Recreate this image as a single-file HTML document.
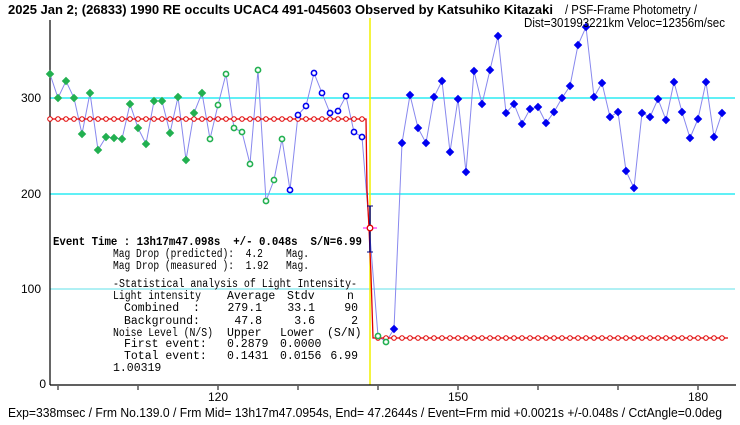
<!DOCTYPE html>
<html><head><meta charset="utf-8"><style>
html,body{margin:0;padding:0;background:#fff;}
svg{display:block;}
text{white-space:pre;}
</style></head><body>
<svg id="s" width="740" height="425" viewBox="0 0 740 425" xmlns="http://www.w3.org/2000/svg" xml:space="preserve">
<rect width="740" height="425" fill="#fff"/>
<line x1="50" y1="98" x2="735" y2="98" stroke="#00e8f0" stroke-width="1.3"/>
<line x1="50" y1="194" x2="735" y2="194" stroke="#00e8f0" stroke-width="1.3"/>
<line x1="50" y1="289" x2="735" y2="289" stroke="#60e0e8" stroke-width="1"/>
<line x1="370" y1="18" x2="370" y2="385" stroke="#f0f000" stroke-width="1.5"/>
<line x1="50" y1="20" x2="50" y2="385" stroke="#000" stroke-width="1.2"/>
<line x1="50" y1="385" x2="736" y2="385" stroke="#000" stroke-width="1.2"/>
<g stroke="#000" stroke-width="1">
<line x1="58" y1="386" x2="58" y2="390"/><line x1="138" y1="386" x2="138" y2="390"/><line x1="218" y1="386" x2="218" y2="390"/><line x1="298" y1="386" x2="298" y2="390"/><line x1="378" y1="386" x2="378" y2="390"/><line x1="458" y1="386" x2="458" y2="390"/><line x1="538" y1="386" x2="538" y2="390"/><line x1="618" y1="386" x2="618" y2="390"/><line x1="698" y1="386" x2="698" y2="390"/>
</g>
<g font-family="Liberation Sans, sans-serif" font-size="12" fill="#000">
<text x="41" y="102" text-anchor="end">300</text>
<text x="41" y="198" text-anchor="end">200</text>
<text x="41" y="293" text-anchor="end">100</text>
<text x="46" y="388" text-anchor="end">0</text>
<text x="218" y="401" text-anchor="middle">120</text>
<text x="458" y="401" text-anchor="middle">150</text>
<text x="698" y="401" text-anchor="middle">180</text>
</g>
<g id="plot"></g>
<g font-family="Liberation Sans, sans-serif" fill="#000">
<text x="8" y="14" font-size="13" font-weight="bold" textLength="545" lengthAdjust="spacingAndGlyphs">2025 Jan 2; (26833) 1990 RE occults UCAC4 491-045603 Observed by Katsuhiko Kitazaki</text>
<text x="565" y="14" font-size="12.5" textLength="132" lengthAdjust="spacingAndGlyphs">/ PSF-Frame Photometry /</text>
<text x="524" y="27" font-size="12.5" textLength="201" lengthAdjust="spacingAndGlyphs">Dist=301993221km Veloc=12356m/sec</text>
<text x="8" y="417" font-size="12.5" textLength="714" lengthAdjust="spacingAndGlyphs">Exp=338msec / Frm No.139.0 / Frm Mid= 13h17m47.0954s, End= 47.2644s / Event=Frm mid +0.0021s +/-0.048s / CctAngle=0.0deg</text>
</g>
<g font-family="Liberation Mono, monospace" font-size="11.5" fill="#000">
<text x="53" y="245" font-weight="bold" textLength="309" lengthAdjust="spacingAndGlyphs">Event Time : 13h17m47.098s  +/- 0.048s  S/N=6.99</text>
<text x="113" y="257" textLength="196" lengthAdjust="spacingAndGlyphs">Mag Drop (predicted):  4.2    Mag.</text>
<text x="113" y="269" textLength="196" lengthAdjust="spacingAndGlyphs">Mag Drop (measured ):  1.92   Mag.</text>
<text x="113" y="287" textLength="244" lengthAdjust="spacingAndGlyphs">-Statistical analysis of Light Intensity-</text>
<text x="113" y="299" textLength="88" lengthAdjust="spacingAndGlyphs">Light intensity</text>
<text x="227" y="299">Average</text><text x="287" y="299">Stdv</text><text x="347" y="299">n</text>
<text x="124" y="311">Combined  :</text>
<text x="262" y="311" text-anchor="end">279.1</text><text x="315" y="311" text-anchor="end">33.1</text><text x="358" y="311" text-anchor="end">90</text>
<text x="124" y="324">Background:</text>
<text x="262" y="324" text-anchor="end">47.8</text><text x="315" y="324" text-anchor="end">3.6</text><text x="358" y="324" text-anchor="end">2</text>
<text x="113" y="336" textLength="100" lengthAdjust="spacingAndGlyphs">Noise Level (N/S)</text>
<text x="227" y="336">Upper</text><text x="280" y="336">Lower</text><text x="327" y="336">(S/N)</text>
<text x="124" y="347">First event:</text>
<text x="227" y="347">0.2879</text><text x="280" y="347">0.0000</text>
<text x="124" y="359">Total event:</text>
<text x="227" y="359">0.1431</text><text x="280" y="359">0.0156</text><text x="358" y="359" text-anchor="end">6.99</text>
<text x="113" y="371">1.00319</text>
</g>
</svg>
<script>
const d=[[50,74],[58,98],[66,81],[74,98],[82,134],[90,93],[98,150],[106,137],[114,138],[122,139],[130,104],[138,128],[146,144],[154,101],[162,101],[170,133],[178,97],[186,160],[194,113],[202,93],[210,139],[218,105],[226,74],[234,128],[242,132],[250,164],[258,70],[266,201],[274,180],[282,139],[290,190],[298,115],[306,106],[314,73],[322,93],[330,113],[338,111],[346,96],[354,132],[362,137],[378,336],[386,342],[394,329],[402,143],[410,95],[418,128],[426,143],[434,97],[442,81],[450,152],[458,99],[466,172],[474,71],[482,104],[490,70],[498,36],[506,113],[514,104],[522,124],[530,109],[538,107],[546,123],[554,112],[562,98],[570,86],[578,45],[586,27],[594,97],[602,83],[610,117],[618,112],[626,171],[634,188],[642,113],[650,117],[658,99],[666,120],[674,82],[682,112],[690,138],[698,119],[706,82],[714,137],[722,113]];
let h='<polyline fill="none" stroke="#8888ee" stroke-width="1" points="'+d.map(p=>p.join(',')).join(' ')+'"/>';
h+='<polyline fill="none" stroke="#e00000" stroke-width="1.3" points="50,119 366,119 367,190 369,228 371,275 373,338 728,338"/>';
for(let x=50;x<=362;x+=8)h+='<circle cx="'+x+'" cy="119" r="2.3" fill="#fff" stroke="#e00000" stroke-width="1"/>';
for(let x=378;x<=722;x+=8)h+='<circle cx="'+x+'" cy="338" r="2.3" fill="#fff" stroke="#e00000" stroke-width="1"/>';
for(const [x,y] of d){
 let gf=x<=202, go=(x>=210&&x<=282)||x==378||x==386, bo=(x>=290&&x<=362);
 if(gf) h+='<rect x="'+(x-3)+'" y="'+(y-3)+'" width="6" height="6" fill="#22b050" transform="rotate(45 '+x+' '+y+')"/>';
 else if(go) h+='<circle cx="'+x+'" cy="'+y+'" r="2.6" fill="#fff" stroke="#22b050" stroke-width="1.6"/>';
 else if(bo) h+='<circle cx="'+x+'" cy="'+y+'" r="2.6" fill="#fff" stroke="#0000f0" stroke-width="1.6"/>';
 else h+='<rect x="'+(x-3)+'" y="'+(y-3)+'" width="6" height="6" fill="#0000f0" transform="rotate(45 '+x+' '+y+')"/>';
}
h+='<line x1="370" y1="206" x2="370" y2="252" stroke="#000080" stroke-width="1.5"/><line x1="367" y1="206" x2="373" y2="206" stroke="#000080"/><line x1="367" y1="252" x2="373" y2="252" stroke="#000080"/>';
h+='<line x1="363" y1="228" x2="377" y2="228" stroke="#ff00ff" stroke-width="1"/><circle cx="370" cy="228" r="2.8" fill="#fff" stroke="#e00000" stroke-width="1.3"/>';
document.getElementById('plot').innerHTML=h;
</script>
</body></html>
